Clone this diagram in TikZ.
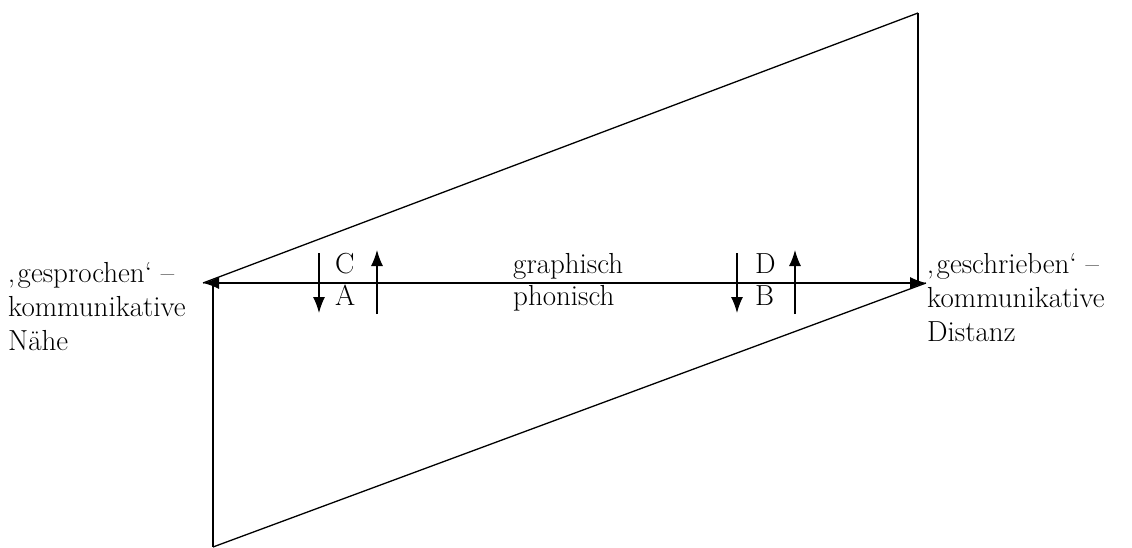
\documentclass[tikz,border=0pt]{standalone}
\usetikzlibrary{arrows.meta}
\begin{document}
\begin{tikzpicture}[x=1pt,y=-1pt,
  line/.style={line width=1.3pt},
  tip/.style={-{Latex[length=16pt,width=12pt]}},
  lbl/.style={font=\fontsize{29}{34}\selectfont, inner sep=0pt, anchor=base west, align=left}]
\useasboundingbox (0,0) rectangle (1132,548);
% corners
\coordinate (L) at (203,283);
\coordinate (R) at (926,283);
\coordinate (TR) at (918,13);
\coordinate (BR) at (918,283);
\coordinate (TL) at (213,283);
\coordinate (BL) at (213,547);
% parallelogram
\draw[line] (TR) -- (BR);
\draw[line] (TL) -- (BL);
\draw[line] (TR) -- (L);
\draw[line] (BL) -- (R);
\draw[line,{Latex[length=16pt,width=12pt]}-{Latex[length=16pt,width=12pt]}] (L) -- (R);
% small arrows
\coordinate (a1s) at (319,253); \coordinate (a1e) at (319,313);
\coordinate (a2s) at (377,314); \coordinate (a2e) at (377,250);
\coordinate (a3s) at (737,253); \coordinate (a3e) at (737,313);
\coordinate (a4s) at (795,314); \coordinate (a4e) at (795,250);
\draw[line,tip] (a1s) -- (a1e);
\draw[line,tip] (a2s) -- (a2e);
\draw[line,tip] (a3s) -- (a3e);
\draw[line,tip] (a4s) -- (a4e);
% labels (base anchor = baseline of last line)
\node[lbl] (left) at (8,350) {‚gesprochen‘ –\\kommunikative\\Nähe};
\node[lbl] (right) at (927,341) {‚geschrieben‘ –\\kommunikative\\Distanz};
\node[lbl] (C) at (335,273) {C};
\node[lbl] (A) at (335,305) {A};
\node[lbl] (D) at (755,273) {D};
\node[lbl] (B) at (755,305) {B};
\node[lbl] (g) at (513,273) {graphisch};
\node[lbl] (p) at (513,305) {phonisch};
\end{tikzpicture}
\end{document}
